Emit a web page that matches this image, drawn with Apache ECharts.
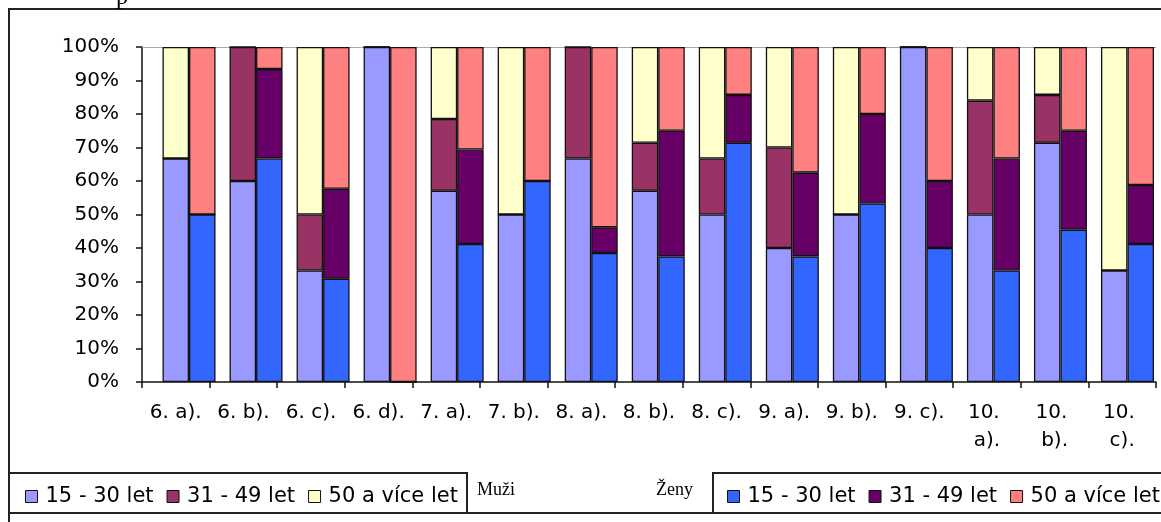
<!DOCTYPE html>
<html>
<head>
<meta charset="utf-8">
<script src="https://cdn.jsdelivr.net/npm/echarts@6/dist/echarts.min.js"></script>
<style>
  html, body { margin: 0; padding: 0; background: #fff; }
  #chart { width: 1161px; height: 522px; }
</style>
</head>
<body>
<div id="chart"></div>
<script>
// Categories (classes) shown along the x axis
const categories = ['6. a).', '6. b).', '6. c).', '6. d).', '7. a).', '7. b).', '8. a).', '8. b).',
  '8. c).', '9. a).', '9. b).', '9. c).', '10. a).', '10. b).', '10. c).'];

// Age groups
const ageGroups = ['15 - 30 let', '31 - 49 let', '50 a více let'];

// Muži (men) – share of each age group, %
const muzi15 = [66.7, 60, 33.3, 100, 57.1, 50, 66.7, 57.1, 50, 40, 50, 100, 50, 71.4, 33.3];
const muzi31 = [0, 40, 16.7, 0, 21.4, 0, 33.3, 14.3, 16.7, 30, 0, 0, 34, 14.3, 0];
const muzi50 = [33.3, 0, 50, 0, 21.5, 50, 0, 28.6, 33.3, 30, 50, 0, 16, 14.3, 66.7];

// Ženy (women) – share of each age group, %
const zeny15 = [50, 66.7, 30.8, 0, 41.2, 60, 38.5, 37.5, 71.4, 37.5, 53.3, 40, 33.3, 45.5, 41.2];
const zeny31 = [0, 26.7, 26.9, 0, 28.2, 0, 7.7, 37.5, 14.3, 25, 26.7, 20, 33.4, 29.5, 17.6];
const zeny50 = [50, 6.6, 42.3, 100, 30.6, 40, 53.8, 25, 14.3, 37.5, 20, 40, 33.3, 25, 41.2];

// Tick labels on the value axis
const yTicks = [0, 10, 20, 30, 40, 50, 60, 70, 80, 90, 100];

const muziColors = ['#9999FF', '#993366', '#FFFFCC'];
const zenyColors = ['#3366FF', '#660066', '#FF8080'];

const FONT = 'DejaVu Sans';

const chart = echarts.init(document.getElementById('chart'), null, { renderer: 'canvas' });

function barSeries(name, data, stack, color) {
  return {
    name: name,
    type: 'bar',
    stack: stack,
    data: data,
    xAxisIndex: 1,
    yAxisIndex: 1,
    barWidth: 26.5,
    barGap: '0%',
    itemStyle: { color: color, borderColor: '#111', borderWidth: 1.3 },
    emphasis: { disabled: true },
    animation: false
  };
}

function legendBlock(left, colors) {
  return {
    left: left,
    top: 481,
    width: 480,
    orient: 'horizontal',
    icon: 'rect',
    itemWidth: 12,
    itemHeight: 12,
    itemGap: 13,
    selectedMode: false,
    textStyle: { fontFamily: FONT, fontSize: 21, color: '#000', padding: [0, 0, 0, 3] },
    data: ageGroups.map((n, i) => ({
      name: n,
      itemStyle: { color: colors[i], borderColor: '#111', borderWidth: 1 }
    }))
  };
}

const option = {
  backgroundColor: '#fff',
  animation: false,
  grid: [
    { left: 142, top: 47, width: 1014, height: 335 },
    { left: 155.5, top: 47, width: 1014, height: 335 }
  ],
  xAxis: [
    {
      type: 'category', gridIndex: 0, data: categories, position: 'bottom',
      axisLine: { lineStyle: { color: '#111', width: 1.5 } },
      axisTick: { show: true, length: 6, inside: false, lineStyle: { color: '#111', width: 1.5 } },
      axisLabel: {
        interval: 0, fontFamily: FONT, fontSize: 20, color: '#000',
        margin: 17, lineHeight: 28, width: 58, overflow: 'break'
      }
    },
    {
      type: 'category', gridIndex: 1, data: categories, show: false
    },
    {
      type: 'category', gridIndex: 0, data: categories, position: 'top',
      axisLine: { show: true, lineStyle: { color: '#a8a8a8', width: 1 } },
      axisTick: { show: false }, axisLabel: { show: false }
    }
  ],
  yAxis: [
    {
      type: 'value', gridIndex: 0, min: yTicks[0], max: yTicks[yTicks.length - 1], interval: 10,
      axisLine: { show: true, lineStyle: { color: '#111', width: 1.5 } },
      axisTick: { show: true, length: 6, inside: false, lineStyle: { color: '#111', width: 1.5 } },
      splitLine: { show: false },
      axisLabel: {
        fontFamily: FONT, fontSize: 20, color: '#000', margin: 23,
        formatter: v => v + '%'
      }
    },
    {
      type: 'value', gridIndex: 1, min: yTicks[0], max: yTicks[yTicks.length - 1], show: false
    }
  ],
  legend: [
    legendBlock(20, muziColors),
    legendBlock(722, zenyColors)
  ],
  series: [
    barSeries(ageGroups[0], muzi15, 'muzi', muziColors[0]),
    barSeries(ageGroups[1], muzi31, 'muzi', muziColors[1]),
    barSeries(ageGroups[2], muzi50, 'muzi', muziColors[2]),
    barSeries(ageGroups[0], zeny15, 'zeny', zenyColors[0]),
    barSeries(ageGroups[1], zeny31, 'zeny', zenyColors[1]),
    barSeries(ageGroups[2], zeny50, 'zeny', zenyColors[2])
  ],
  graphic: [
    // outer frame
    { type: 'rect', shape: { x: 9, y: 9, width: 1160, height: 504 },
      style: { fill: null, stroke: '#222', lineWidth: 2 }, silent: true },
    { type: 'line', shape: { x1: 9, y1: 9, x2: 9, y2: 522 },
      style: { stroke: '#222', lineWidth: 2 }, silent: true },
    // legend boxes
    { type: 'rect', shape: { x: 9, y: 473, width: 458, height: 40 },
      style: { fill: null, stroke: '#222', lineWidth: 2 }, silent: true },
    { type: 'rect', shape: { x: 713, y: 473, width: 460, height: 40 },
      style: { fill: null, stroke: '#222', lineWidth: 2 }, silent: true },
    // group captions
    { type: 'text', x: 477, y: 481,
      style: { text: 'Muži', font: '18px "Liberation Serif"', fill: '#000' }, silent: true },
    { type: 'text', x: 656, y: 481,
      style: { text: 'Ženy', font: '18px "Liberation Serif"', fill: '#000' }, silent: true },
    // descender of text running above the frame
    { type: 'text', x: 116, y: 10,
      style: { text: 'p', font: '24px "Liberation Serif"', fill: '#000', verticalAlign: 'bottom' }, silent: true }
  ]
};

chart.setOption(option);
</script>
</body>
</html>
